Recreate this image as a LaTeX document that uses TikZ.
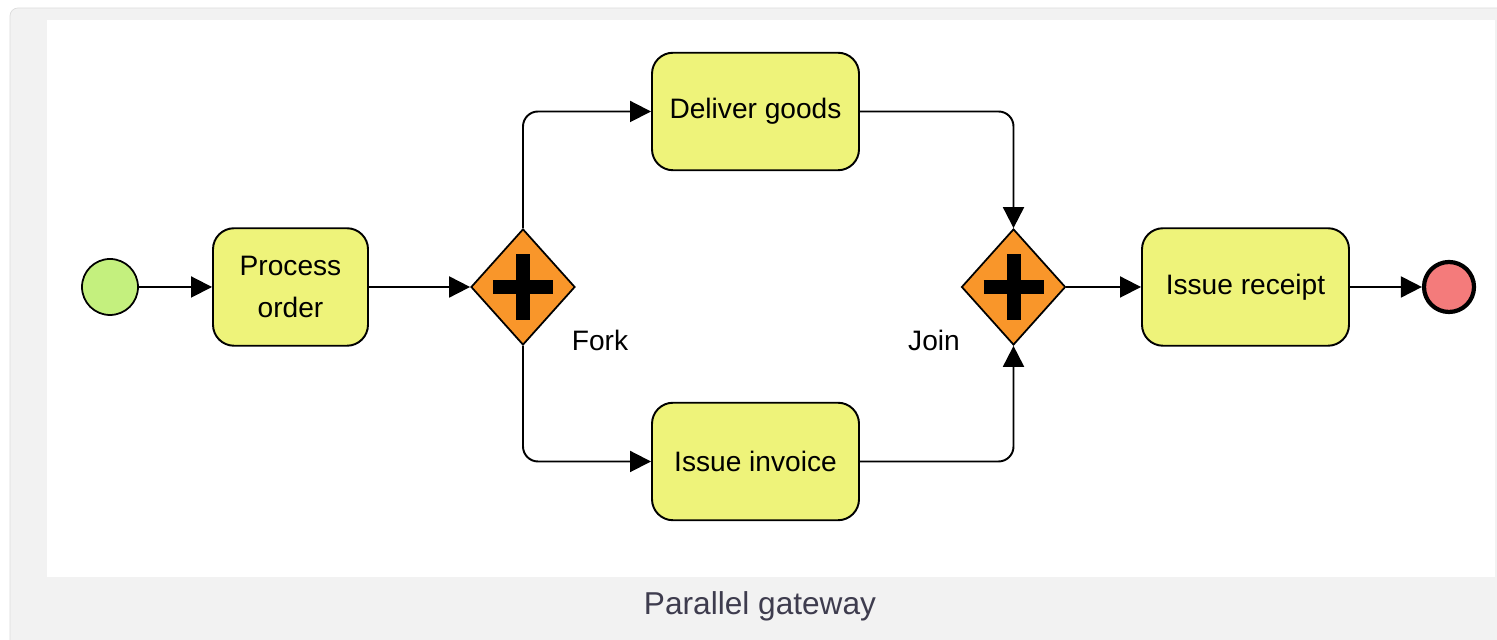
\documentclass[tikz,border=0pt]{standalone}
\usepackage{fontspec}
\setmainfont{Liberation Sans}
\usepackage{xcolor}
\usepackage{tikz}
\usetikzlibrary{shapes.geometric, arrows.meta, positioning, calc}

\definecolor{panelgray}{HTML}{F2F2F2}
\definecolor{panelline}{HTML}{DCDCDC}
\definecolor{startgreen}{HTML}{C4F07E}
\definecolor{taskyellow}{HTML}{EEF37A}
\definecolor{gateorange}{HTML}{F9962A}
\definecolor{endred}{HTML}{F47B7B}
\definecolor{captiontext}{HTML}{3E3C4E}

\tikzset{
    task/.style={draw, line width=1.1pt, fill=taskyellow, rounded corners=0.42cm,
        minimum width=4.14cm, minimum height=2.35cm, align=center,
        font=\fontsize{16}{24}\selectfont},
    gate/.style={draw, line width=1pt, fill=gateorange, diamond, inner sep=0pt,
        minimum width=2.08cm, minimum height=2.32cm},
    flow/.style={line width=1.1pt, -{Triangle[length=0.42cm, width=0.42cm]}, rounded corners=0.3cm},
    lbl/.style={font=\fontsize{16}{19}\selectfont},
}

\begin{document}
\begin{tikzpicture}
    \useasboundingbox (0,0) rectangle (29.94,12.8);

    % Frame and canvas
    \draw[panelline, fill=panelgray, rounded corners=0.16cm] (0.2,-0.5) rectangle (30.5,12.64);
    \fill[white] (0.94,1.26) rectangle (29.9,12.4);
    \node[font=\fontsize{18}{22}\selectfont, captiontext] (caption) at (15.2,0.68) {Parallel gateway};

    % Events
    \node[circle, draw, line width=1pt, fill=startgreen, minimum size=1.12cm, inner sep=0pt] (start) at (2.2,7.06) {};
    \node[circle, draw, line width=2.4pt, fill=endred, minimum size=1.0cm, inner sep=0pt] (end) at (28.98,7.06) {};

    % Tasks
    \node[task, minimum width=3.1cm] (process) at (5.81,7.06) {Process\\order};
    \node[task] (deliver) at (15.11,10.57) {Deliver goods};
    \node[task] (invoice) at (15.11,3.57) {Issue invoice};
    \node[task] (receipt) at (24.91,7.06) {Issue receipt};

    % Gateways
    \node[gate] (fork) at (10.46,7.06) {};
    \node[gate] (join) at (20.27,7.06) {};
    \foreach \g in {fork, join} {
        \draw[line width=0.28cm] ($(\g)+(-0.6,0)$) -- ($(\g)+(0.6,0)$);
        \draw[line width=0.28cm] ($(\g)+(0,-0.66)$) -- ($(\g)+(0,0.66)$);
    }
    \node[lbl] (forklabel) at (12.0,6.0) {Fork};
    \node[lbl] (joinlabel) at (18.68,6.0) {Join};

    % Sequence flows
    \draw[flow] (start) -- (process);
    \draw[flow] (process) -- (fork);
    \draw[flow] (fork.north) |- (deliver.west);
    \draw[flow] (fork.south) |- (invoice.west);
    \draw[flow] (deliver.east) -| (join.north);
    \draw[flow] (invoice.east) -| (join.south);
    \draw[flow] (join) -- (receipt);
    \draw[flow] (receipt) -- (end);
\end{tikzpicture}
\end{document}
